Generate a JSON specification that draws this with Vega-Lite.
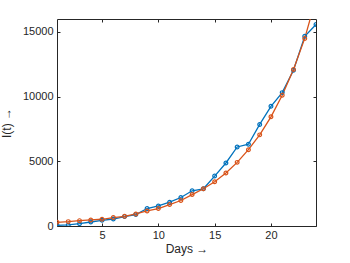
{
  "$schema": "https://vega.github.io/schema/vega-lite/v6.json",
  "width": 259,
  "height": 207,
  "autosize": "none",
  "padding": {"left": 57, "top": 19, "right": 34, "bottom": 37},
  "background": "white",
  "config": {
    "font": "Liberation Sans",
    "view": {"stroke": "#262626", "strokeWidth": 1},
    "axis": {
      "domain": false,
      "grid": false,
      "labelFont": "Liberation Sans",
      "labelFontSize": 11,
      "labelColor": "#262626",
      "titleFont": "Liberation Sans",
      "titleFontSize": 12,
      "titleFontWeight": "normal",
      "titleColor": "#262626",
      "tickColor": "#262626",
      "tickSize": -3
    }
  },
  "data": {
    "values": [
      {"day": 1, "series": "data", "value": 50},
      {"day": 2, "series": "data", "value": 80},
      {"day": 3, "series": "data", "value": 180},
      {"day": 4, "series": "data", "value": 310},
      {"day": 5, "series": "data", "value": 440},
      {"day": 6, "series": "data", "value": 540},
      {"day": 7, "series": "data", "value": 725},
      {"day": 8, "series": "data", "value": 880},
      {"day": 9, "series": "data", "value": 1350},
      {"day": 10, "series": "data", "value": 1550},
      {"day": 11, "series": "data", "value": 1840},
      {"day": 12, "series": "data", "value": 2200},
      {"day": 13, "series": "data", "value": 2720},
      {"day": 14, "series": "data", "value": 2875},
      {"day": 15, "series": "data", "value": 3860},
      {"day": 16, "series": "data", "value": 4870},
      {"day": 17, "series": "data", "value": 6110},
      {"day": 18, "series": "data", "value": 6320},
      {"day": 19, "series": "data", "value": 7850},
      {"day": 20, "series": "data", "value": 9250},
      {"day": 21, "series": "data", "value": 10310},
      {"day": 22, "series": "data", "value": 12040},
      {"day": 23, "series": "data", "value": 14660},
      {"day": 24, "series": "data", "value": 15570},
      {"day": 1, "series": "model", "value": 285},
      {"day": 2, "series": "model", "value": 340},
      {"day": 3, "series": "model", "value": 415},
      {"day": 4, "series": "model", "value": 470},
      {"day": 5, "series": "model", "value": 520},
      {"day": 6, "series": "model", "value": 650},
      {"day": 7, "series": "model", "value": 750},
      {"day": 8, "series": "model", "value": 930},
      {"day": 9, "series": "model", "value": 1165},
      {"day": 10, "series": "model", "value": 1350},
      {"day": 11, "series": "model", "value": 1660},
      {"day": 12, "series": "model", "value": 1970},
      {"day": 13, "series": "model", "value": 2430},
      {"day": 14, "series": "model", "value": 2875},
      {"day": 15, "series": "model", "value": 3420},
      {"day": 16, "series": "model", "value": 4090},
      {"day": 17, "series": "model", "value": 4920},
      {"day": 18, "series": "model", "value": 5900},
      {"day": 19, "series": "model", "value": 7045},
      {"day": 20, "series": "model", "value": 8440},
      {"day": 21, "series": "model", "value": 10100},
      {"day": 22, "series": "model", "value": 12100},
      {"day": 23, "series": "model", "value": 14500},
      {"day": 24, "series": "model", "value": 17600}
    ]
  },
  "layer": [
    {
      "encoding": {
        "x": {
          "field": "day", "type": "quantitative",
          "scale": {"domain": [1, 24], "nice": false, "zero": false},
          "axis": {"values": [5, 10, 15, 20], "title": "Days →", "labelPadding": 6, "titlePadding": 3}
        },
        "y": {
          "field": "value", "type": "quantitative",
          "scale": {"domain": [0, 16000], "nice": false},
          "axis": {"values": [0, 5000, 10000, 15000], "format": "d", "title": "I(t) →", "labelPadding": 7, "titlePadding": 9}
        },
        "color": {
          "field": "series", "type": "nominal",
          "scale": {"domain": ["data", "model"], "range": ["#0072BD", "#D95319"]},
          "legend": null
        }
      },
      "layer": [
        {"mark": {"type": "line", "strokeWidth": 1.3, "clip": true}},
        {"mark": {"type": "point", "shape": "circle", "filled": false, "size": 14, "strokeWidth": 1.2, "opacity": 1, "clip": true}}
      ]
    },
    {
      "mark": {"type": "point", "opacity": 0, "clip": true},
      "encoding": {
        "x": {
          "field": "day", "type": "quantitative",
          "axis": {"values": [5, 10, 15, 20], "labels": false, "title": null, "orient": "top"}
        },
        "y": {
          "field": "value", "type": "quantitative",
          "axis": {"values": [0, 5000, 10000, 15000], "labels": false, "title": null, "orient": "right"}
        }
      }
    }
  ],
  "resolve": {"axis": {"x": "independent", "y": "independent"}}
}
